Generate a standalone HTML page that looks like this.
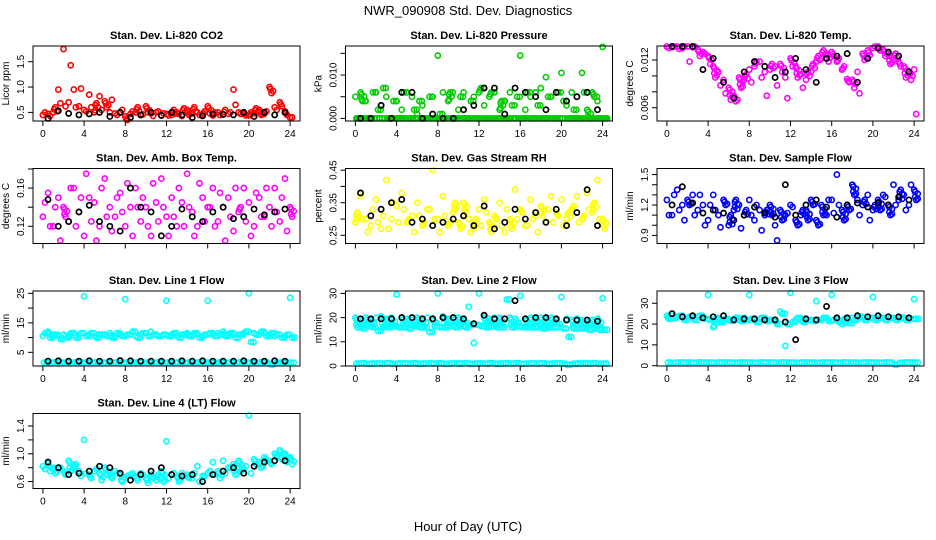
<!DOCTYPE html>
<html><head><meta charset="utf-8"><style>
html,body{margin:0;padding:0;background:#fff}
svg{display:block;font-family:"Liberation Sans",sans-serif}
</style></head><body>
<svg id="chart" width="936" height="540" viewBox="0 0 936 540" xmlns="http://www.w3.org/2000/svg">
<text x="468" y="15" font-size="13" text-anchor="middle">NWR_090908 Std. Dev. Diagnostics</text>
<text x="468" y="531" font-size="13" text-anchor="middle">Hour of Day (UTC)</text>
</svg>
<script>
const xTicks=[0,4,8,12,16,20,24];
const co2A=[0.45,0.47,0.5,0.95,1.75,0.7,0.95,0.62,0.55,0.85,0.5,0.82,0.72,0.5,0.48,0.5,0.42,0.47,0.5,0.45,0.62,0.48,0.5,0.44,0.47,0.45,0.5,0.43,0.55,0.48,0.5,0.45,0.62,0.44,0.5,0.46,0.47,0.95,0.5,0.47,0.44,0.48,0.55,0.47,1.0,0.6,0.7,0.52,0.4];
const co2B=[0.5,0.43,0.6,0.68,0.62,1.43,0.6,0.97,0.52,0.6,0.68,0.55,0.6,0.75,0.45,0.55,0.35,0.52,0.6,0.46,0.5,0.43,0.52,0.48,0.44,0.55,0.47,0.58,0.45,0.6,0.45,0.52,0.48,0.5,0.45,0.55,0.5,0.65,0.47,0.44,0.5,0.58,0.45,0.52,0.88,0.55,0.62,0.45,0.4];
const co2K=[0.38,0.53,0.48,0.45,0.47,0.5,0.42,0.5,0.4,0.45,0.5,0.44,0.5,0.45,0.4,0.43,0.47,0.46,0.45,0.5,0.42,0.5,0.45,0.5];
const prA=[0.005,0.006,0.004,0.0,0.006,0.003,0.005,0.0,0.004,0.002,0.006,0.005,0.001,0.003,0.0,0.005,0.0145,0.006,0.004,0.0,0.002,0.006,0.0,0.005,0.006,0.003,0.005,0.006,0.002,0.004,0.006,0.0,0.0145,0.002,0.005,0.006,0.007,0.0095,0.005,0.0,0.0105,0.003,0.006,0.005,0.0105,0.002,0.006,0.004,0.0165];
const prB=[0.0,0.004,0.0,0.006,0.002,0.007,0.0,0.004,0.0,0.006,0.0,0.002,0.004,0.0,0.005,0.0,0.001,0.0,0.006,0.0,0.005,0.0,0.004,0.0,0.007,0.0,0.006,0.0,0.004,0.0,0.003,0.005,0.0,0.006,0.0,0.003,0.0,0.005,0.0,0.006,0.004,0.0,0.002,0.0,0.006,0.0,0.005,0.0,0.0];
const prC=[0,0,0,0,0,0,0,0,0,0,0,0,0,0,0,0,0,0,0,0,0,0,0,0,0,0,0,0,0,0,0,0,0,0,0,0,0,0,0,0,0,0,0,0,0,0,0,0,0];
const prK=[0,0,0.003,0,0.006,0.006,0,0.001,0,0,0.002,0.003,0.007,0.007,0.001,0.007,0.006,0.005,0.002,0.006,0.004,0.005,0.006,0.002];
const ltA=[0.0137,0.0136,0.0137,0.0135,0.0137,0.0136,0.0133,0.013,0.0125,0.0112,0.0105,0.0095,0.0085,0.0075,0.0098,0.0095,0.0108,0.0112,0.0118,0.0105,0.0108,0.0112,0.0115,0.0098,0.0122,0.0112,0.0102,0.0095,0.0105,0.0118,0.0122,0.0128,0.013,0.0118,0.0108,0.0096,0.0095,0.0105,0.0128,0.0132,0.0135,0.0137,0.0133,0.0128,0.012,0.0118,0.0112,0.0105,0.0108];
const ltB=[0.0135,0.0137,0.0134,0.0137,0.0118,0.0137,0.0125,0.0128,0.0115,0.0098,0.0088,0.0078,0.007,0.0068,0.0085,0.0102,0.0092,0.0118,0.0098,0.0075,0.0115,0.0088,0.0105,0.0072,0.0112,0.0098,0.0085,0.0105,0.0115,0.0125,0.0132,0.0118,0.0125,0.0122,0.0112,0.0092,0.0085,0.0078,0.012,0.0126,0.0137,0.0132,0.0125,0.0115,0.0128,0.0112,0.0098,0.0095,0.0052];
const ltK=[0.0137,0.0137,0.0137,0.0108,0.0122,0.0092,0.0072,0.0105,0.0118,0.0112,0.0098,0.0105,0.0122,0.0108,0.0092,0.0122,0.0125,0.0128,0.0092,0.0122,0.0135,0.013,0.0125,0.0105];
const abA=[0.13,0.155,0.12,0.15,0.14,0.125,0.16,0.135,0.11,0.15,0.145,0.12,0.17,0.14,0.13,0.155,0.12,0.14,0.16,0.125,0.14,0.11,0.145,0.17,0.13,0.15,0.12,0.145,0.175,0.135,0.12,0.15,0.14,0.16,0.125,0.14,0.15,0.115,0.135,0.16,0.145,0.12,0.15,0.13,0.14,0.16,0.125,0.17,0.14];
const abB=[0.145,0.12,0.14,0.105,0.13,0.16,0.12,0.15,0.175,0.125,0.105,0.16,0.13,0.115,0.15,0.135,0.165,0.11,0.14,0.15,0.12,0.165,0.125,0.14,0.11,0.13,0.16,0.12,0.14,0.11,0.165,0.125,0.14,0.12,0.155,0.105,0.13,0.16,0.14,0.125,0.11,0.155,0.13,0.16,0.12,0.135,0.15,0.115,0.13];
const abK=[0.148,0.12,0.125,0.135,0.142,0.125,0.12,0.115,0.16,0.14,0.135,0.11,0.12,0.138,0.13,0.125,0.135,0.14,0.128,0.13,0.138,0.132,0.135,0.138];
const rhA=[0.29,0.37,0.3,0.28,0.36,0.27,0.42,0.3,0.34,0.38,0.29,0.31,0.35,0.28,0.33,0.45,0.3,0.37,0.28,0.32,0.29,0.35,0.3,0.27,0.33,0.36,0.29,0.31,0.35,0.26,0.3,0.39,0.33,0.28,0.36,0.31,0.34,0.29,0.37,0.32,0.36,0.3,0.33,0.37,0.3,0.38,0.32,0.42,0.3];
const rhB=[0.32,0.3,0.26,0.33,0.29,0.31,0.27,0.35,0.29,0.33,0.3,0.26,0.31,0.29,0.33,0.3,0.26,0.31,0.29,0.35,0.27,0.32,0.26,0.3,0.28,0.32,0.26,0.3,0.28,0.33,0.27,0.3,0.32,0.28,0.3,0.26,0.31,0.33,0.29,0.31,0.28,0.32,0.34,0.29,0.31,0.33,0.35,0.3,0.27];
const rhK=[0.38,0.31,0.33,0.35,0.36,0.29,0.3,0.28,0.29,0.3,0.31,0.28,0.34,0.27,0.29,0.33,0.3,0.32,0.29,0.33,0.28,0.32,0.39,0.28];
const sfA=[1.25,1.1,1.35,1.2,1.25,1.3,1.15,1.2,1.05,1.3,1.1,1.25,1.0,1.15,1.2,1.1,1.25,1.05,1.15,1.1,1.2,1.0,1.15,1.1,1.2,1.05,1.1,1.15,1.25,1.05,1.2,1.1,1.25,1.5,1.15,1.2,1.4,1.25,1.2,1.3,1.15,1.25,1.3,1.2,1.4,1.25,1.3,1.2,1.35];
const sfB=[1.1,1.3,1.15,1.05,1.2,1.1,1.3,1.0,1.2,1.15,0.98,1.2,1.1,1.25,0.97,1.15,1.1,1.2,0.95,1.15,1.1,0.85,1.05,1.12,1.18,1.0,1.15,1.05,1.2,1.0,1.1,1.25,1.12,1.2,1.05,1.15,1.3,1.1,1.25,1.05,1.2,1.15,1.28,1.1,1.2,1.35,1.15,1.4,1.25];
const sfK=[1.2,1.38,1.22,1.12,1.15,1.12,1.05,1.1,1.18,1.12,1.08,1.4,1.1,1.2,1.25,1.18,1.08,1.2,1.22,1.18,1.22,1.2,1.28,1.25];
const l1A=[10.5,12,11,10.5,11,10,11.5,11,24,11,10.5,11,11,11.5,10.5,11,23,11,10.5,11,11.5,12,11,10.5,22.5,11,10.5,11,11.5,11,11,10.5,22.5,11,11.5,12,11,11,11,11.5,25,11.5,11,11.5,11,10.5,11,10.5,23.5];
const l1B=[11.5,10,11,9.5,10.5,11.5,10,11.5,10.5,11.5,10,11,10.5,10,11.5,10.5,11,12,10,11.5,10.5,11,10.5,11,10.5,11.5,10,11,10.5,11.5,10,11,11.5,10.5,11,10.5,11.5,10,11,12,8.5,11,12,10.5,11.5,11,10,11,10];
const l1C=[1.5,1.4,1.6,1.5,1.5,1.4,1.6,1.5,1.5,1.4,1.6,1.5,1.5,1.4,1.6,1.5,1.5,1.4,1.6,1.5,1.5,1.4,1.6,1.5,1.5,1.4,1.6,1.5,1.5,1.4,1.6,1.5,1.5,1.4,1.6,1.5,1.5,1.4,1.6,1.5,1.5,1.4,1.6,1.5,0.9,1.4,1.6,1.5,1.5];
const l1K=[2,2.1,2,2,2.1,2,2,2.2,2.1,2,2,2,2,2.1,2,2.1,2,2,2,2.1,2,2,2.1,2];
const l2A=[20,19.5,20,19,20,20.5,19.5,20,29.5,20,19.5,20,20,19.5,20,19.5,30,20.5,19.5,20,20,19.5,24.5,9.5,30,20,19.5,20,20,19.5,20,19.5,29,19.5,20,19.5,20,19.5,20,19,28.5,19.5,19,19.5,19,19,19,19.5,28];
const l2B=[16,15.5,16.5,16,14.5,16,16,16.5,16,16,15.5,16.5,16,16,14,16.5,16,16,16.5,16,16.5,16,17,17,16.5,16,16.5,16,16,27.5,16,16.5,16,16,16,16,15.5,16,16,16,15.5,12,15.5,15.5,15.5,15,15.5,15,15];
const l2C=[1,1.2,0.9,1,1.1,1,1.2,0.9,1,1.1,1,1.2,0.9,1,1.1,1,1.2,0.9,1,1.1,1,1.2,0.9,1,1.1,1,1.2,0.9,1,1.1,1,1.2,0.9,1,1.1,1,1.2,0.9,1,1.1,1,0.5,0.9,1,1.1,1,1.2,0.9,1];
const l2K=[19.5,19.5,19.5,19.5,20,20,19.5,19.5,20,20,19.5,17.5,21,19.5,19.5,27,19.5,20,20,19.5,19,19,19,18.5];
const l3A=[24,24,23.5,24,23,23,23.5,23,34,18.5,23,22,22,22.5,22,23,34,22,22.5,23,22,22,26,9.5,35,22,22.5,22,22,31,22,23,34,22,20,22.5,23,23,23,23.5,33,23,23,23.5,23,23,23,23,32];
const l3B=[22.5,23,24,22,23.5,22,24,22.5,22,22.5,21,22.5,21.5,23,21.5,22,22.5,21,23,21.5,22,20,25,20,21,23,21,22,21.5,22,23,21.5,22,21,22.5,20.5,22,23.5,22,23,22,23,22,23,22,23,22,22.5,22.5];
const l3C=[1.5,1.4,1.6,1.5,1.5,1.4,1.6,1.5,1.5,1.4,1.6,1.5,1.5,1.4,1.6,1.5,1.5,1.4,1.6,1.5,1.5,1.4,1.6,1.5,1.5,1.4,1.6,1.5,1.5,1.4,1.6,1.5,1.5,1.4,1.6,1.5,1.5,1.4,1.6,1.5,1.5,1.4,1.6,1.5,0.6,1.4,1.6,1.5,1.5];
const l3K=[25,23.5,24,23,23.5,24,22,22.5,22.5,22,22,21,12.5,22.5,22,28.5,23,23,24,23.5,24,23.5,23.5,23];
const l4A=[0.82,0.85,0.8,0.78,0.75,0.9,0.8,0.75,1.2,0.7,0.75,0.72,0.8,0.7,0.75,0.72,0.65,0.7,0.68,0.72,0.65,0.7,0.62,0.75,1.18,0.7,0.68,0.72,0.7,0.65,0.82,0.68,0.72,0.88,0.75,0.9,0.8,0.85,0.9,0.78,1.55,0.92,0.88,0.95,0.9,1.0,1.05,1.0,0.95];
const l4B=[0.78,0.75,0.72,0.8,0.7,0.75,0.85,0.68,0.72,0.65,0.78,0.62,0.7,0.65,0.72,0.6,0.68,0.72,0.62,0.7,0.58,0.65,0.7,0.6,0.65,0.72,0.6,0.68,0.65,0.72,0.6,0.68,0.75,0.7,0.65,0.72,0.8,0.7,0.75,0.82,0.72,0.85,0.8,0.9,0.85,0.95,0.92,0.88,0.85];
const l4K=[0.88,0.8,0.7,0.72,0.75,0.82,0.8,0.72,0.62,0.7,0.75,0.8,0.7,0.68,0.7,0.6,0.7,0.75,0.8,0.72,0.82,0.88,0.9,0.9];

const NS="http://www.w3.org/2000/svg";
const svg=document.getElementById('chart');
function mk(tag,attrs,parent){const e=document.createElementNS(NS,tag);for(const k in attrs)e.setAttribute(k,attrs[k]);(parent||svg).appendChild(e);return e;}
const colX=[33,345.5,657], rowY=[46,168.5,291,413.5], W=267, H=75;
const panels=[
 {name:'co2',title:'Stan. Dev. Li-820 CO2',yl:'Licor ppm',c:0,r:0,ylim:[0.33,1.81],ticks:[0.5,1.0,1.5],labels:['0.5','1.0','1.5'],col:'#ff0000',ser:[co2A,co2B],k:co2K,xl:true},
 {name:'pressure',title:'Stan. Dev. Li-820 Pressure',yl:'kPa',c:1,r:0,ylim:[-0.0006,0.0167],ticks:[0,0.005,0.01,0.015],labels:['0.000','','0.010',''],col:'#00cd00',ser:[prA,prB,prC],k:prK,xl:true},
 {name:'li820-temp',title:'Stan. Dev. Li-820 Temp.',yl:'degrees C',c:2,r:0,ylim:[0.00433,0.01376],ticks:[0.006,0.008,0.010,0.012],labels:['0.006','','','0.012'],col:'#ff00ff',ser:[ltA,ltB],k:ltK,xl:true},
 {name:'amb-box-temp',title:'Stan. Dev. Amb. Box Temp.',yl:'degrees C',c:0,r:1,ylim:[0.102,0.1805],ticks:[0.12,0.14,0.16,0.18],labels:['0.12','','0.16',''],col:'#ff00ff',ser:[abA,abB],k:abK,xl:false},
 {name:'gas-stream-rh',title:'Stan. Dev. Gas Stream RH',yl:'percent',c:1,r:1,ylim:[0.225,0.455],ticks:[0.25,0.3,0.35,0.4,0.45],labels:['0.25','','0.35','','0.45'],col:'#ffff00',ser:[rhA,rhB],k:rhK,xl:false},
 {name:'sample-flow',title:'Stan. Dev. Sample Flow',yl:'ml/min',c:2,r:1,ylim:[0.82,1.56],ticks:[0.9,1.0,1.1,1.2,1.3,1.4,1.5],labels:['0.9','','','1.2','','','1.5'],col:'#0000ff',ser:[sfA,sfB],k:sfK,xl:false},
 {name:'line1-flow',title:'Stan. Dev. Line 1 Flow',yl:'ml/min',c:0,r:2,ylim:[0.36,25.8],ticks:[5,10,15,20,25],labels:['5','','15','','25'],col:'#00ffff',ser:[l1A,l1B,l1C],k:l1K,xl:true},
 {name:'line2-flow',title:'Stan. Dev. Line 2 Flow',yl:'ml/min',c:1,r:2,ylim:[0,31],ticks:[0,10,20,30],labels:['0','10','20','30'],col:'#00ffff',ser:[l2A,l2B,l2C],k:l2K,xl:true},
 {name:'line3-flow',title:'Stan. Dev. Line 3 Flow',yl:'ml/min',c:2,r:2,ylim:[-0.15,35.9],ticks:[0,10,20,30],labels:['0','10','20','30'],col:'#00ffff',ser:[l3A,l3B,l3C],k:l3K,xl:true},
 {name:'line4-flow',title:'Stan. Dev. Line 4 (LT) Flow',yl:'ml/min',c:0,r:3,ylim:[0.5,1.58],ticks:[0.6,0.8,1.0,1.2,1.4],labels:['0.6','','1.0','','1.4'],col:'#00ffff',ser:[l4A,l4B],k:l4K,xl:true}
];
const offs=[0,0.2,0.1];
panels.forEach(p=>{
  const x0=colX[p.c], y0=rowY[p.r];
  const g=mk('g',{});
  
  
  const xs=v=>x0+(v+0.96)/25.92*W;
  const ys=v=>y0+H-(v-p.ylim[0])/(p.ylim[1]-p.ylim[0])*H;
  const t=mk('text',{x:x0+W/2,y:y0-7,'font-size':11,'font-weight':'bold','text-anchor':'middle'},g);
  t.textContent=p.title;
  
  
  const cl=mk('g',{fill:'none',stroke:p.col,'stroke-width':1.6},g);
  const span=p.ylim[1]-p.ylim[0];
  const A=p.ser[0], B=p.ser[1];
  A.forEach((a,i)=>{
    const b=B[i];
    if(Math.abs(a-b)<span*0.16){
      const ya=ys(a), yb=ys(b), lo=Math.min(ya,yb), hi=Math.max(ya,yb);
      [0.1,0.35].forEach((dx,j)=>{
        for(let y=lo+2+j*2;y<hi-1;y+=5){
          const c=mk('circle',{cx:xs(i*0.5+dx),cy:y,r:2.6},cl);
          
          
        }
      });
    }
  });
  p.ser.forEach((arr,si)=>{arr.forEach((v,i)=>{
    const c=mk('circle',{cx:xs(i*0.5+offs[si]),cy:ys(v),r:2.6},cl);
    
    
    if(si===2 || (si===1 && p.ser.length===3)){
      const c2=mk('circle',{cx:xs(i*0.5+offs[si]+0.25),cy:ys(v),r:2.6},cl);
      
      
    }
  });});
  const kl=mk('g',{fill:'none',stroke:'#000','stroke-width':1.7},g);
  p.k.forEach((v,i)=>{
    const c=mk('circle',{cx:xs(i+0.5),cy:ys(v),r:2.6},kl);
    
    
  });
  const box=mk('rect',{x:x0,y:y0,width:W,height:H,fill:'none',stroke:'#000','stroke-width':1},g);
  
  
  const xa=mk('g',{},g);
  
  
  mk('line',{x1:xs(0),x2:xs(24),y1:y0+H,y2:y0+H,stroke:'#000'},xa);
  xTicks.forEach(v=>{
    mk('line',{x1:xs(v),x2:xs(v),y1:y0+H,y2:y0+H+5,stroke:'#000'},xa);
    if(p.xl){
      const tl=mk('text',{x:xs(v),y:y0+H+16,'font-size':10,'text-anchor':'middle'},xa);
      tl.textContent=v;
    }
  });
  const ya=mk('g',{},g);
  
  
  mk('line',{x1:x0,x2:x0,y1:ys(p.ticks[0]),y2:ys(p.ticks[p.ticks.length-1]),stroke:'#000'},ya);
  p.ticks.forEach((v,i)=>{
    const y=ys(v);
    mk('line',{x1:x0-5,x2:x0,y1:y,y2:y,stroke:'#000'},ya);
    if(p.labels[i]){
      const tl=mk('text',{x:0,y:0,'font-size':10,'text-anchor':'middle',transform:`translate(${x0-9},${y}) rotate(-90)`},ya);
      tl.textContent=p.labels[i];
    }
  });
  const yt=mk('text',{x:0,y:0,'font-size':10,'text-anchor':'middle',transform:`translate(${x0-24},${y0+H/2}) rotate(-90)`},g);
  yt.textContent=p.yl;
  
  
});
</script>
</body></html>
